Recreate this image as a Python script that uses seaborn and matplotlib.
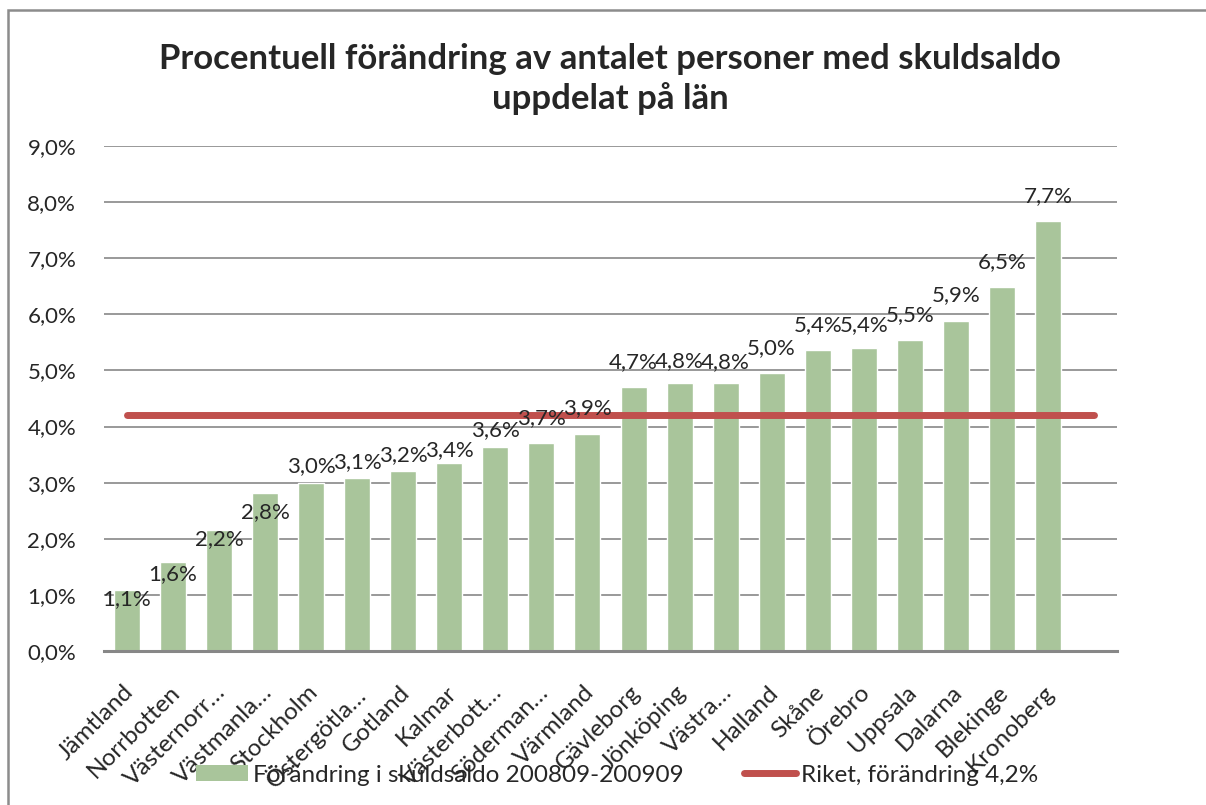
import matplotlib
matplotlib.use("Agg")
import matplotlib.pyplot as plt
import matplotlib.transforms as mtransforms
import seaborn as sns
import pandas as pd
import numpy as np
from matplotlib.patches import Patch, Rectangle
from matplotlib.lines import Line2D

# data
regions = ['Jämtland', 'Norrbotten', 'Västernorr…', 'Västmanla…', 'Stockholm',
           'Östergötla…', 'Gotland', 'Kalmar', 'Västerbott…', 'Söderman…',
           'Värmland', 'Gävleborg', 'Jönköping', 'Västra…', 'Halland', 'Skåne',
           'Örebro', 'Uppsala', 'Dalarna', 'Blekinge', 'Kronoberg']
change = [1.08, 1.58, 2.16, 2.82, 2.99, 3.08, 3.21, 3.35, 3.64, 3.70, 3.86,
          4.71, 4.77, 4.78, 4.95, 5.37, 5.40, 5.54, 5.89, 6.48, 7.67]
riket = 4.2
yticks = [0, 1, 2, 3, 4, 5, 6, 7, 8, 9]

# label offsets (pixels) to mimic the label placement in the original
label_dy = [9, 12, 9, 19, -17, -16, -16, -13, -17, -25, -26,
            -25, -22, -21, -25, -25, -23, -25, -25, -25, -25]

GREEN = '#A9C59B'
RED = '#C0504D'
GRID = '#878787'

sns.set_style("white")
plt.rcParams['font.family'] = ['Lato', 'DejaVu Sans']

df = pd.DataFrame({'region': regions, 'change': change})

fig = plt.figure(figsize=(12.06, 8.05), dpi=100)
ax = fig.add_axes([104 / 1206, 1 - 651 / 805, (1117 - 104) / 1206, (651 - 146) / 805])

ax.set_axisbelow(True)
ax.yaxis.grid(True, color=GRID, linewidth=1.2)
sns.barplot(data=df, x='region', y='change', color=GREEN, width=0.565,
            saturation=1, ax=ax, zorder=2)

# national change line runs one step past the last bar
xs = np.arange(len(regions) + 1)
ax.plot(xs, [riket] * len(xs), color=RED, linewidth=5, solid_capstyle='round', zorder=3)

for i, v in enumerate(change):
    ax.annotate(f"{v:.1f}%".replace('.', ','), (i, v), xytext=(0, -label_dy[i]),
                textcoords='offset pixels', ha='center', va='center', fontsize=16, zorder=4)

ax.set_xlim(-0.5, len(regions) + 0.5)
ax.set_ylim(0, 9)
ax.set_yticks(yticks)
ax.set_yticklabels([f"{t:.1f}%".replace('.', ',') for t in yticks], fontsize=16)
ax.tick_params(axis='y', length=0, pad=20)
ax.tick_params(axis='x', length=0, pad=22)
ax.set_xticks(range(len(regions)))
ax.set_xticklabels(regions, rotation=45, ha='right', va='top', rotation_mode='anchor', fontsize=17.5)
shift = mtransforms.ScaledTranslation(-4 / 100, 0, fig.dpi_scale_trans)
for lab in ax.get_xticklabels():
    lab.set_transform(lab.get_transform() + shift)
ax.set_xlabel('')
ax.set_ylabel('')
for s in ['left', 'right', 'top']:
    ax.spines[s].set_visible(False)
ax.spines['bottom'].set_color(GRID)
ax.spines['bottom'].set_linewidth(2.2)

fig.text(0.506, 1 - 79 / 805, 'Procentuell förändring av antalet personer med skuldsaldo\nuppdelat på län',
         ha='center', va='center', fontsize=25, fontweight='bold', linespacing=1.25)

handles = [Patch(facecolor=GREEN, edgecolor='none'),
           Line2D([0], [0], color=RED, linewidth=5, solid_capstyle='round')]
fig.legend(handles, ['Förändring i skuldsaldo 200809-200909', 'Riket, förändring 4,2%'],
           loc='center', bbox_to_anchor=(617 / 1206, 1 - 775 / 805), ncol=2, frameon=False,
           fontsize=17.5, handlelength=2.15, handleheight=0.6, handletextpad=0.2, columnspacing=2.5)

fig.add_artist(Rectangle((8 / 1206, -0.05), 1.1, 1 - 10 / 805 + 0.05, transform=fig.transFigure,
                         fill=False, edgecolor='#8c8c8c', linewidth=1.8))

fig.savefig('out.png', dpi=100)
